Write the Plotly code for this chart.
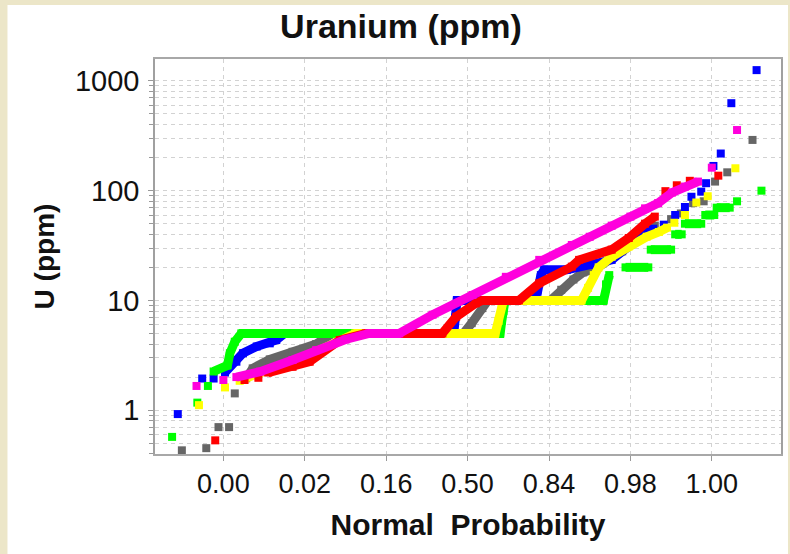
import plotly.graph_objects as go

# ---------------- data ----------------
TITLE = "Uranium (ppm)"
X_TITLE = "Normal\u00a0 Probability"
Y_TITLE = "U (ppm)"

X_TICK_Z = [-3, -2, -1, 0, 1, 2, 3]
X_TICK_TEXT = ["0.00", "0.02", "0.16", "0.50", "0.84", "0.98", "1.00"]
Y_TICK_VALS = [1, 10, 100, 1000]
Y_TICK_TEXT = ["1", "10", "100", "1000"]

# normal score (z) and U (ppm) per series; None separates runs that are not contiguous
GRAY_Z = [-3.51, None, -3.21, None, -3.06, None, -2.93, None, -2.86, None,
          -2.72, -2.64, -2.43, -2.15, -1.86, -1.66, -0.05, 0.05, 0.18, 0.25, 1.02, 1.15, 1.30, 1.42,
          1.60, 1.90, 2.10, 2.30, None,
          2.50, None, 2.62, None, 2.77, None, 2.90, None, 3.04, None, 3.19, None, 3.50]
GRAY_U = [0.43, None, 0.45, None, 0.70, None, 0.70, None, 1.42, None,
          1.95, 2.4, 2.9, 3.4, 4.0, 5, 5, 6.2, 8.5, 10, 10, 12.5, 15.5, 18,
          20, 28, 36, 48, None,
          55, None, 62, None, 77, None, 80, None, 121, None, 147, None, 290]

BLUE_Z = [-3.56, None, -3.26, None, -3.12, None,
          -2.98, -2.84, -2.76, -2.59, -2.43, -2.35, -2.25, -0.17, -0.15, -0.13, 0.80, 0.86, 0.90,
          0.94, 1.22, 1.50, 1.77, 2.00, 2.14, 2.28, None,
          2.41, None, 2.55, None, 2.67, None, 2.75, None, 2.87, None, 2.93, None, 3.02, None,
          3.11, None, 3.24, None, 3.55]
BLUE_U = [0.92, None, 1.94, None, 1.94, None,
          2.2, 2.76, 3.3, 3.8, 4.06, 4.35, 5, 5, 7, 10, 10, 12, 17,
          19, 19, 21, 23.4, 32, 39, 45, None,
          49, None, 60, None, 71, None, 88, None, 98, None, 117, None, 168, None,
          218, None, 627, None, 1255]

GREEN_Z = [-3.63, None, -3.32, None, -3.19, None,
           -3.12, -2.95, -2.92, -2.86, -2.78, 0.40, 0.42, 0.44, 0.46, 1.67, 1.70, 1.74, None,
           1.94, 2.22, None, 2.25, 2.50, None, 2.55, 2.63, None, 2.67, 2.87, None,
           2.92, 3.03, None, 3.06, 3.22, None, 3.31, None, 3.61]
GREEN_U = [0.57, None, 1.17, None, 1.66, None,
           2.25, 2.55, 3.3, 4.2, 5, 5, 6.5, 8, 10, 10, 14, 17, None,
           20, 20, None, 29, 29, None, 40, 40, None, 50, 50, None,
           60, 60, None, 70, 70, None, 80, None, 100]

YELLOW_Z = [-3.30, None, -2.98, None,
            -2.80, -2.55, -2.15, -1.86, -1.60, -1.38, 0.34, 0.38, 0.42, 0.44, 1.40, 1.48, 1.55,
            1.61, 1.77, 1.98, 2.20, 2.35, 2.45, None,
            2.54, None, 2.67, None, 2.81, None, 2.95, None, 3.29]
YELLOW_U = [1.11, None, 1.61, None,
            1.85, 2.2, 2.7, 3.4, 4.2, 5, 5, 6.5, 9, 10, 10, 13, 17,
            20, 25, 31, 38, 42, 46, None,
            51, None, 60, None, 78, None, 89, None, 160]

RED_Z = [-3.10, None, -2.74, None, -2.57, None,
         -2.45, -2.15, -1.94, -1.57, -1.25, -0.31, -0.14, 0.10, 0.18, 0.63, 0.88, 1.28, 1.37,
         1.77, 1.98, 2.18, 2.30, None,
         2.43, None, 2.57, None, 2.73, None, 3.08]
RED_U = [0.53, None, 1.88, None, 1.97, None,
         2.2, 2.48, 2.76, 4.35, 5, 5, 7.1, 9.4, 10, 10, 14.3, 20.3, 23.4,
         29, 37, 50, 58, None,
         99, None, 112, None, 123, None, 137]

MAGENTA_Z = [-3.33, None, -3.00, None,
             -2.84, -2.55, -2.15, -1.86, -1.50, -1.21, -0.84, -0.43, 0.06, 0.47, 0.88, 1.28, 1.50,
             1.77, 2.00, 2.18, 2.34, 2.51, 2.67, 2.83, None,
             3.00, None, 3.31]
MAGENTA_U = [1.66, None, 1.88, None,
             2.0, 2.24, 2.86, 3.52, 4.4, 5, 5, 7.4, 11.2, 16.4, 23.4, 32, 38,
             48, 58, 69, 77, 96, 109, 121, None,
             162, None, 357]

SERIES = [
    ("gray", GRAY_Z, GRAY_U, "#666666"),
    ("blue", BLUE_Z, BLUE_U, "#0000ff"),
    ("green", GREEN_Z, GREEN_U, "#00ff00"),
    ("yellow", YELLOW_Z, YELLOW_U, "#ffff00"),
    ("red", RED_Z, RED_U, "#ff0000"),
    ("magenta", MAGENTA_Z, MAGENTA_U, "#ff00dd"),
]

# ---------------- figure ----------------
FONT = "Liberation Sans, Arial, Helvetica, sans-serif"
W, H = 790, 554
L, R, T, B = 155, 7, 59, 100
PW, PH = W - L - R, H - T - B

fig = go.Figure()
for name, zs, us, col in SERIES:
    fig.add_trace(go.Scatter(
        x=zs, y=us, mode="lines+markers", name=name,
        line=dict(color=col, width=9),
        marker=dict(symbol="square", size=8, color=col, line=dict(width=0)),
        connectgaps=False, hoverinfo="skip",
    ))

# white panel over the beige page (page edge strips: 7 px left, 5 px top)
fig.add_shape(type="rect", xref="paper", yref="paper",
              x0=(7 - L) / PW, x1=(W - L) / PW,
              y0=-(B + 5) / PH, y1=(PH + T - 5) / PH,
              fillcolor="white", line=dict(width=0), layer="below")

grid = "#d2d2d2"
fig.update_layout(
    width=W, height=H,
    margin=dict(l=L, r=R, t=T, b=B, pad=0),
    paper_bgcolor="#ece6c8",
    plot_bgcolor="white",
    showlegend=False,
    font=dict(family=FONT, color="#111111"),
    title=dict(text=TITLE, x=401 / W, xref="container", xanchor="center",
               y=1 - 14 / H, yref="container", yanchor="top",
               font=dict(family=FONT, size=34, weight="bold", color="#111111")),
    xaxis=dict(
        range=[-3.84, 3.85], tickmode="array", tickvals=X_TICK_Z, ticktext=X_TICK_TEXT,
        ticks="outside", ticklen=5, tickcolor="#999999", tickfont=dict(size=27),
        showgrid=True, gridcolor=grid, griddash="4px,4px", gridwidth=1,
        zeroline=False, showline=True, linecolor="#a8a8a8", linewidth=1.5, mirror=True,
        title=dict(text=X_TITLE, font=dict(size=30, weight="bold"), standoff=16),
    ),
    yaxis=dict(
        type="log", range=[-0.40, 3.20], tickmode="array", tickvals=Y_TICK_VALS, ticktext=Y_TICK_TEXT,
        ticks="outside", ticklen=5, tickcolor="#999999", tickfont=dict(size=29),
        ticklabelstandoff=3,
        showgrid=True, gridcolor=grid, griddash="4px,4px", gridwidth=1,
        minor=dict(dtick="D1", ticks="outside", ticklen=4, tickcolor="#999999",
                   showgrid=True, gridcolor=grid, griddash="4px,4px", gridwidth=1),
        zeroline=False, showline=True, linecolor="#a0a0a0", linewidth=1.5, mirror=True,
        title=dict(text=Y_TITLE, font=dict(size=28, weight="bold"), standoff=12),
    ),
)

fig.write_html("out.html")
